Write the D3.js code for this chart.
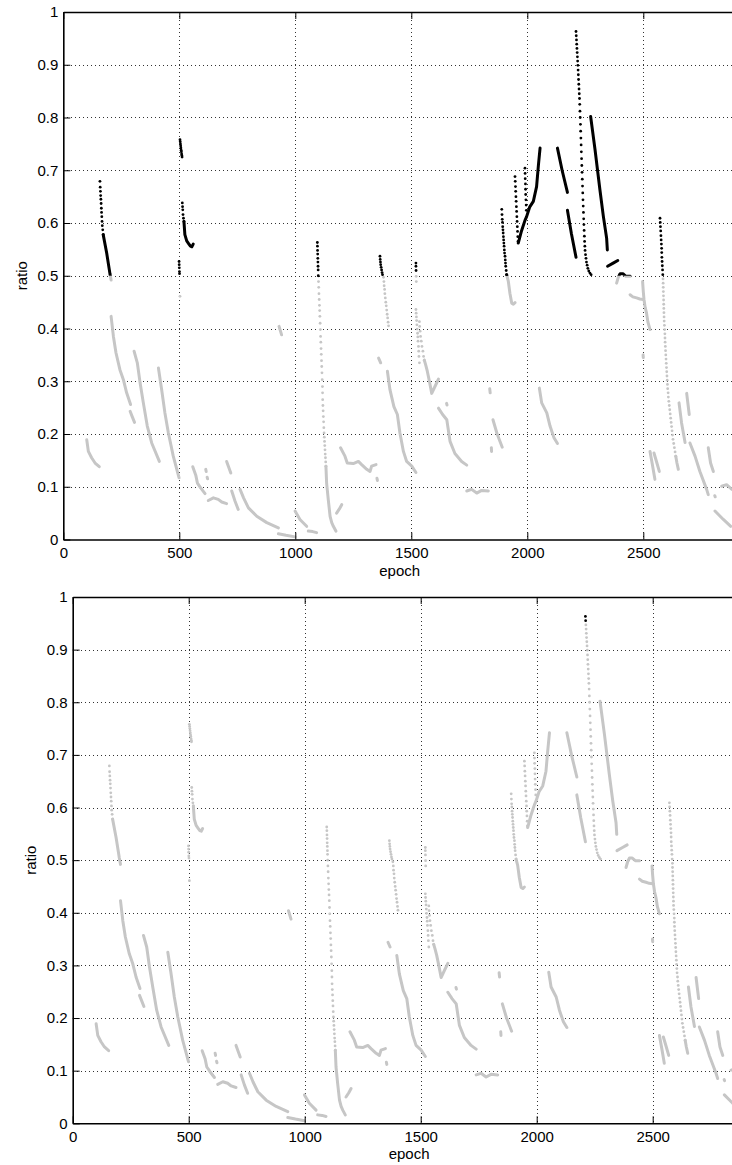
<!DOCTYPE html>
<html>
<head>
<meta charset="utf-8">
<script src="https://cdn.jsdelivr.net/npm/d3@7"></script>
<style>
  body { margin: 0; background: #fff; }
  svg { display: block; font-family: "Liberation Sans", Arial, Helvetica, sans-serif; }
</style>
</head>
<body>
<svg id="chart" width="732" height="1165"></svg>
<script>
  /* global d3 */

  //Axis ticks
  var epochTicks = [0, 500, 1000, 1500, 2000, 2500];
  var ratioTicks = [0, 0.1, 0.2, 0.3, 0.4, 0.5, 0.6, 0.7, 0.8, 0.9, 1];
  var epochMax = 2900;

  //Ratio above which a point is drawn black, one per panel
  var blackAbove = [0.5, 0.95];

  //Continuous stretches of [epoch, ratio]
  var denseRuns = [
    [[101,0.189],[108,0.167],[122,0.155],[137,0.145],[155,0.138]],
    [[172,0.578],[187,0.543],[201,0.504],[206,0.492]],
    [[206,0.423],[216,0.385],[227,0.354],[244,0.322],[259,0.303],[273,0.278],[290,0.256]],
    [[288,0.243],[297,0.233],[307,0.222]],
    [[305,0.357],[319,0.335],[331,0.297],[345,0.259],[362,0.215],[381,0.183],[414,0.148]],
    [[410,0.325],[424,0.284],[438,0.240],[453,0.202],[474,0.158],[499,0.117]],
    [[520,0.603],[524,0.578],[532,0.566],[540,0.561],[548,0.556],[554,0.555],[560,0.560]],
    [[558,0.138],[571,0.122],[578,0.107],[592,0.098],[611,0.087]],
    [[614,0.133],[616,0.129]],
    [[620,0.118],[622,0.115]],
    [[625,0.074],[647,0.079],[668,0.076],[683,0.071],[704,0.068]],
    [[704,0.148],[713,0.137],[722,0.126]],
    [[726,0.092],[740,0.073],[754,0.057]],
    [[762,0.095],[777,0.079],[798,0.060],[834,0.044],[877,0.032],[927,0.022]],
    [[927,0.011],[960,0.008],[999,0.005]],
    [[930,0.404],[941,0.388]],
    [[999,0.054],[1020,0.038],[1049,0.025]],
    [[1056,0.016],[1075,0.015],[1092,0.013]],
    [[1132,0.139],[1135,0.107],[1142,0.076],[1150,0.044],[1157,0.032],[1164,0.025],[1175,0.016]],
    [[1178,0.050],[1190,0.058],[1200,0.066]],
    [[1195,0.174],[1214,0.158],[1224,0.145],[1250,0.144],[1272,0.148],[1286,0.142],[1308,0.133],[1322,0.129],[1329,0.139],[1348,0.142]],
    [[1352,0.116],[1354,0.112]],
    [[1359,0.344],[1368,0.335]],
    [[1397,0.319],[1408,0.284],[1425,0.252],[1440,0.237],[1451,0.202],[1466,0.167],[1480,0.148],[1502,0.139],[1520,0.127]],
    [[1556,0.340],[1562,0.331],[1569,0.319],[1578,0.300],[1588,0.277],[1603,0.291],[1617,0.304]],
    [[1617,0.249],[1635,0.237],[1653,0.227],[1667,0.186],[1688,0.163],[1717,0.148],[1739,0.141]],
    [[1652,0.258],[1654,0.255]],
    [[1739,0.092],[1760,0.095],[1782,0.088],[1803,0.093],[1832,0.092]],
    [[1838,0.286],[1840,0.278]],
    [[1845,0.174],[1846,0.167]],
    [[1852,0.227],[1870,0.200],[1892,0.175]],
    [[1911,0.502],[1918,0.490],[1925,0.467],[1933,0.448],[1940,0.446],[1947,0.449]],
    [[1961,0.562],[1975,0.585],[1990,0.605],[1997,0.612],[2010,0.630],[2026,0.641],[2040,0.669],[2048,0.710],[2055,0.742]],
    [[2052,0.287],[2062,0.259],[2084,0.240],[2098,0.215],[2115,0.193],[2130,0.182]],
    [[2130,0.742],[2150,0.700],[2173,0.658]],
    [[2173,0.624],[2190,0.580],[2210,0.535]],
    [[2273,0.802],[2292,0.739],[2313,0.663],[2328,0.612],[2342,0.571],[2345,0.549]],
    [[2346,0.518],[2370,0.524],[2390,0.529]],
    [[2385,0.486],[2392,0.497],[2400,0.504],[2412,0.504],[2425,0.499],[2443,0.499]],
    [[2443,0.464],[2455,0.460],[2471,0.458],[2485,0.456],[2500,0.455]],
    [[2497,0.489],[2500,0.470],[2503,0.455],[2508,0.440],[2514,0.429],[2520,0.412],[2529,0.398]],
    [[2499,0.350],[2500,0.345]],
    [[2529,0.167],[2540,0.140],[2550,0.114]],
    [[2546,0.164],[2558,0.146],[2569,0.129]],
    [[2640,0.158],[2645,0.145],[2651,0.133]],
    [[2654,0.259],[2665,0.221],[2680,0.184]],
    [[2687,0.277],[2698,0.237]],
    [[2701,0.183],[2723,0.158],[2744,0.129],[2773,0.095],[2780,0.085]],
    [[2780,0.174],[2790,0.145],[2802,0.129]],
    [[2808,0.083],[2810,0.081]],
    [[2809,0.054],[2845,0.038],[2877,0.025]],
    [[2838,0.101],[2859,0.104],[2882,0.095]]
  ];

  //Steep stretches where single samples stand apart, [epoch, ratio]
  var sampleRuns = [
    [[158,0.679],[159,0.668],[160,0.660],[161,0.652],[162,0.645],[163,0.637],[164,0.628],[165,0.620],
     [166,0.612],[167,0.603],[168,0.595],[170,0.587],[172,0.578]],
    [[503,0.758],[504,0.754],[505,0.750],[506,0.746],[507,0.742],[508,0.738],[509,0.735],[510,0.731],[511,0.728],[512,0.725]],
    [[499,0.527],[499.5,0.521],[500,0.515],[500.5,0.508],[501,0.504],[503,0.461]],
    [[513,0.638],[514,0.631],[515,0.625],[516,0.616],[518,0.609],[520,0.603]],
    [[1095,0.563],[1095.5,0.556],[1096,0.548],[1096.5,0.541],[1097,0.533],[1097.5,0.526],[1098,0.518],[1098.5,0.511],
     [1099,0.500],[1100,0.489],[1101,0.478],[1102,0.466],[1103,0.455],[1104,0.444],[1105,0.434],[1106,0.423],
     [1107,0.410],[1108,0.398],[1109,0.385],[1110,0.374],[1111,0.362],[1112,0.351],[1113,0.339],[1114,0.328],
     [1115,0.316],[1116,0.303],[1117,0.290],[1117.5,0.278],[1118,0.265],[1119,0.254],[1120,0.244],[1121,0.233],
     [1122,0.223],[1123,0.212],[1124,0.202],[1125,0.194],[1126,0.186],[1127,0.178],[1128,0.170],[1129,0.162],
     [1130,0.155],[1131,0.147],[1132,0.139]],
    [[1365,0.537],[1366,0.531],[1367,0.526],[1368,0.521],[1370,0.516],[1372,0.511],[1374,0.506],[1376,0.502],
     [1380,0.497],[1382,0.489],[1383,0.481],[1385,0.474],[1386,0.466],[1388,0.458],[1390,0.450],[1392,0.443],
     [1394,0.435],[1396,0.427],[1398,0.420],[1400,0.412],[1402,0.405]],
    [[1520,0.524],[1520,0.518],[1520.5,0.510],[1521,0.499],[1521.5,0.489]],
    [[1520,0.436],[1521,0.429],[1522,0.422],[1523,0.415],[1524,0.407],[1525,0.399],[1527,0.391],[1528,0.384],
     [1529,0.376],[1531,0.366],[1532,0.357],[1533,0.347],[1535,0.335]],
    [[1535,0.413],[1536,0.404],[1538,0.395],[1540,0.385],[1543,0.376],[1546,0.366],[1550,0.357],[1553,0.347],[1556,0.340]],
    [[1890,0.626],[1891,0.616],[1892,0.607],[1893,0.601],[1894,0.593],[1895,0.587],[1896,0.581],[1897,0.574],
     [1898,0.568],[1899,0.562],[1900,0.556],[1901,0.549],[1902,0.543],[1904,0.537],[1905,0.530],[1906,0.524],
     [1907,0.518],[1909,0.510],[1911,0.502]],
    [[1947,0.688],[1948,0.679],[1949,0.669],[1950,0.660],[1951,0.650],[1952,0.641],[1953,0.631],[1954,0.622],
     [1955,0.612],[1956,0.603],[1957,0.593],[1958,0.584],[1959,0.574],[1960,0.565]],
    [[1990,0.704],[1990.5,0.694],[1991,0.684],[1992,0.674],[1992.5,0.664],[1993,0.654],[1994,0.644],[1995,0.634],[1996,0.624]],
    [[2210,0.963],[2211,0.955],[2212,0.947],[2213,0.939],[2214,0.931],[2215,0.923],[2216,0.915],[2217,0.907],
     [2218,0.899],[2219,0.890],[2220,0.881],[2221,0.872],[2222,0.863],[2223,0.854],[2224,0.845],[2225,0.836],
     [2226,0.825],[2227,0.812],[2228,0.800],[2229,0.787],[2230,0.774],[2231,0.761],[2232,0.748],[2233,0.735],
     [2234,0.722],[2235,0.709],[2236,0.696],[2237,0.683],[2238,0.670],[2239,0.657],[2240,0.644],[2241,0.632],
     [2242,0.620],[2243,0.608],[2244,0.597],[2245,0.586],[2246,0.575],[2247,0.565],[2248,0.556],[2249,0.548],
     [2251,0.540],[2253,0.533],[2255,0.526],[2258,0.520],[2261,0.514],[2265,0.509],[2270,0.505],[2275,0.502]],
    [[2572,0.609],[2573,0.601],[2574,0.593],[2575,0.585],[2576,0.576],[2577,0.568],[2578,0.560],[2579,0.552],
     [2579.5,0.544],[2580,0.535],[2581,0.527],[2582,0.519],[2583,0.511],[2584,0.502],
     [2585,0.494],[2585.5,0.486],[2586,0.478],[2586.5,0.470],[2587,0.462],[2587.5,0.454],[2588,0.446],[2588.5,0.438],
     [2589,0.430],[2589.5,0.422],[2590,0.414],[2591,0.406],[2592,0.398],[2593,0.390],[2593.5,0.382],[2594,0.374],
     [2595,0.366],[2596,0.358],[2597,0.350],[2598,0.342],[2599,0.334],[2600,0.326],[2601,0.318],[2602,0.310],
     [2603,0.302],[2604,0.294],[2605,0.286],[2607,0.278],[2608,0.270],[2610,0.262],[2612,0.254],[2614,0.246],
     [2616,0.238],[2618,0.230],[2620,0.222],[2622,0.214],[2624,0.206],[2626,0.198],[2628,0.190],[2631,0.182],
     [2634,0.174],[2637,0.166],[2640,0.158]]
  ];

  var grey = '#c6c6c6';
  var fontSize = 15;
  var pxPerEpoch = 0.232;

  //Panel frames (left, top, bottom of plot box) and label positions
  var panels = [
    { left: 63.3, top: 12, bottom: 539.5, ylabelX: 22 },
    { left: 72.7, top: 597, bottom: 1123.3, ylabelX: 31 }
  ];

  var svg = d3.select('#chart');

  var styleAxis = function(sel){
    sel.attr('font-size', fontSize).attr('font-family', null);
    sel.selectAll('path.domain').attr('stroke', '#000').attr('stroke-width', 1.6);
    sel.selectAll('.tick line').attr('stroke', '#000').attr('stroke-width', 1);
    sel.selectAll('.tick text').attr('fill', '#000');
  };

  panels.forEach(function(p, i){
    var w = epochMax * pxPerEpoch;
    var h = p.bottom - p.top;
    var x = d3.scaleLinear().domain([0, epochMax]).range([0, w]);
    var y = d3.scaleLinear().domain([0, 1]).range([h, 0]);
    var cut = y(blackAbove[i]);

    var g = svg.append('g').attr('transform', 'translate(' + p.left + ',' + p.top + ')');

    //Clip areas: above and below the colour threshold
    var defs = g.append('defs');
    defs.append('clipPath').attr('id', 'hi' + i).append('rect')
      .attr('x', -5).attr('y', -5).attr('width', w + 10).attr('height', cut + 5);
    defs.append('clipPath').attr('id', 'lo' + i).append('rect')
      .attr('x', -5).attr('y', cut).attr('width', w + 10).attr('height', h - cut + 5);

    //Dotted grid
    var grid = g.append('g').attr('stroke', '#333').attr('stroke-width', 1)
      .attr('stroke-dasharray', '1,3').attr('shape-rendering', 'crispEdges');
    grid.selectAll('line.vx').data(epochTicks.filter(function(d){ return d > 0; })).enter()
      .append('line').attr('class', 'vx')
      .attr('x1', function(d){ return Math.round(x(d)) + 0.5; })
      .attr('x2', function(d){ return Math.round(x(d)) + 0.5; })
      .attr('y1', 0).attr('y2', h);
    grid.selectAll('line.hy').data(ratioTicks.filter(function(d){ return d > 0 && d < 1; })).enter()
      .append('line').attr('class', 'hy')
      .attr('y1', function(d){ return Math.round(y(d)) + 0.5; })
      .attr('y2', function(d){ return Math.round(y(d)) + 0.5; })
      .attr('x1', 0).attr('x2', w);

    //Data marks
    var line = d3.line().x(function(d){ return x(d[0]); }).y(function(d){ return y(d[1]); });

    [['lo', grey], ['hi', '#000']].forEach(function(part){
      g.append('g').attr('clip-path', 'url(#' + part[0] + i + ')')
        .selectAll('path').data(denseRuns).enter().append('path')
        .attr('d', line)
        .attr('fill', 'none')
        .attr('stroke', part[1])
        .attr('stroke-width', 3)
        .attr('stroke-linecap', 'round')
        .attr('stroke-linejoin', 'round');
    });

    var samples = [];
    sampleRuns.forEach(function(run){ samples = samples.concat(run); });
    samples.sort(function(a, b){ return (a[1] >= blackAbove[i]) - (b[1] >= blackAbove[i]); });
    g.append('g').selectAll('circle').data(samples).enter().append('circle')
      .attr('cx', function(d){ return x(d[0]); })
      .attr('cy', function(d){ return y(d[1]); })
      .attr('r', 1.4)
      .attr('fill', function(d){ return d[1] >= blackAbove[i] ? '#000' : grey; });

    //Axes (ticks point inwards, box on top)
    g.append('g').attr('transform', 'translate(0,' + h + ')')
      .call(d3.axisBottom(x).tickValues(epochTicks).tickSize(-7).tickSizeOuter(0).tickPadding(8)
        .tickFormat(d3.format('d')))
      .call(styleAxis);
    g.append('g')
      .call(d3.axisTop(x).tickValues(epochTicks).tickSize(-7).tickSizeOuter(0).tickFormat(''))
      .call(styleAxis);
    g.append('g')
      .call(d3.axisLeft(y).tickValues(ratioTicks).tickSize(-7).tickSizeOuter(0).tickPadding(5)
        .tickFormat(function(d){ return d; }))
      .call(styleAxis);

    //Axis titles
    g.append('text').attr('x', w / 2).attr('y', h + 36)
      .attr('text-anchor', 'middle').attr('font-size', fontSize).text('epoch');
    g.append('text')
      .attr('transform', 'translate(' + (p.ylabelX - p.left) + ',' + (h / 2) + ') rotate(-90)')
      .attr('text-anchor', 'middle').attr('dy', '0.35em').attr('font-size', fontSize).text('ratio');
  });
</script>
</body>
</html>
